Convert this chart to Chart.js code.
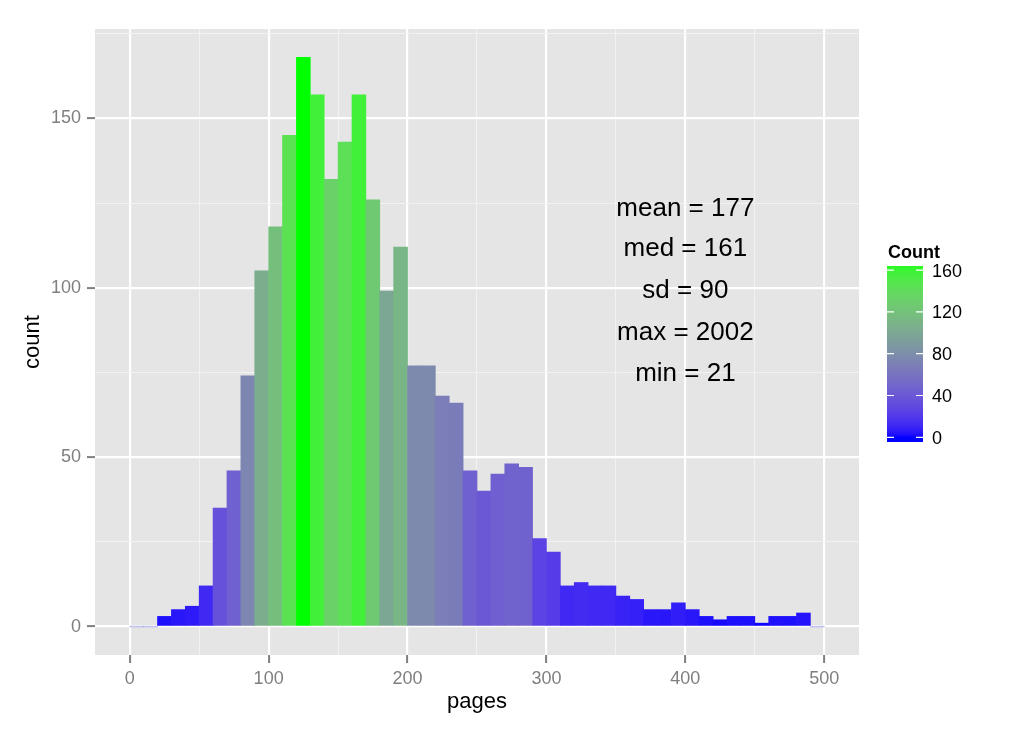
<!DOCTYPE html>
<html>
<head>
<meta charset="utf-8">
<script src="https://cdn.jsdelivr.net/npm/chart.js@4.4.1/dist/chart.umd.min.js"></script>
<style>
  html, body { margin: 0; padding: 0; background: #ffffff; }
  #histCanvas { display: block; }
</style>
</head>
<body>
<canvas id="histCanvas" width="1024" height="731"></canvas>
<script>
// histogram of pages, binwidth 10
const binStarts = [0, 10, 20, 30, 40, 50, 60, 70, 80, 90,
  100, 110, 120, 130, 140, 150, 160, 170, 180, 190,
  200, 210, 220, 230, 240, 250, 260, 270, 280, 290,
  300, 310, 320, 330, 340, 350, 360, 370, 380, 390,
  400, 410, 420, 430, 440, 450, 460, 470, 480, 490];
const binWidth = 10;
const counts = [0, 0, 3, 5, 6, 12, 35, 46, 74, 105,
  118, 145, 168, 157, 132, 143, 157, 126, 99, 112,
  77, 77, 68, 66, 46, 40, 45, 48, 47, 26,
  22, 12, 13, 12, 12, 9, 8, 5, 5, 7,
  5, 3, 2, 3, 3, 1, 3, 3, 4, 0];

const xTickValues = [0, 50, 100, 150, 200, 250, 300, 350, 400, 450, 500];
const xLabelValues = [0, 100, 200, 300, 400, 500];
const yTickValues = [0, 25, 50, 75, 100, 125, 150, 175];
const yLabelValues = [0, 50, 100, 150];
const legendTicks = [0, 40, 80, 120, 160];
const fillLimits = [0, 168];

const statsLines = ["mean = 177", "med = 161", "sd = 90", "max = 2002", "min = 21"];
const statsX = 400;
const statsY = [124, 112, 99.7, 87.4, 75.3];

const FONT = '"Liberation Sans", Arial, Helvetica, sans-serif';
const canvas = document.getElementById("histCanvas");
const ctx = canvas.getContext("2d");

// --- blue -> green gradient, interpolated in Lab like ggplot ---
function toLinear(c) {
  c /= 255;
  return c <= 0.04045 ? c / 12.92 : Math.pow((c + 0.055) / 1.055, 2.4);
}
function fromLinear(c) {
  const v = c <= 0.0031308 ? 12.92 * c : 1.055 * Math.pow(c, 1 / 2.4) - 0.055;
  return Math.round(Math.max(0, Math.min(1, v)) * 255);
}
const WHITE = [0.95047, 1.0, 1.08883];
function labF(t) {
  const d = 6 / 29;
  return t > d * d * d ? Math.cbrt(t) : t / (3 * d * d) + 4 / 29;
}
function labFInv(t) {
  const d = 6 / 29;
  return t > d ? t * t * t : 3 * d * d * (t - 4 / 29);
}
function rgbToLab(rgb) {
  const [r, g, b] = rgb.map(toLinear);
  const x = (0.4124 * r + 0.3576 * g + 0.1805 * b) / WHITE[0];
  const y = (0.2126 * r + 0.7152 * g + 0.0722 * b) / WHITE[1];
  const z = (0.0193 * r + 0.1192 * g + 0.9505 * b) / WHITE[2];
  const fx = labF(x), fy = labF(y), fz = labF(z);
  return [116 * fy - 16, 500 * (fx - fy), 200 * (fy - fz)];
}
function labToRgb(lab) {
  const fy = (lab[0] + 16) / 116;
  const fx = fy + lab[1] / 500;
  const fz = fy - lab[2] / 200;
  const x = labFInv(fx) * WHITE[0];
  const y = labFInv(fy) * WHITE[1];
  const z = labFInv(fz) * WHITE[2];
  const r = 3.2406 * x - 1.5372 * y - 0.4986 * z;
  const g = -0.9689 * x + 1.8758 * y + 0.0415 * z;
  const b = 0.0557 * x - 0.2040 * y + 1.0570 * z;
  return [fromLinear(r), fromLinear(g), fromLinear(b)];
}
const lowLab = rgbToLab([0, 0, 255]);
const highLab = rgbToLab([0, 255, 0]);

function fillColour(value) {
  let t = (value - fillLimits[0]) / (fillLimits[1] - fillLimits[0]);
  t = Math.max(0, Math.min(1, t));
  const lab = lowLab.map((l, i) => l + (highLab[i] - l) * t);
  const [r, g, b] = labToRgb(lab);
  return `rgb(${r},${g},${b})`;
}

const barPoints = binStarts.map((start, i) => ({ x: start + binWidth / 2, y: counts[i] }));
const barColours = counts.map((c) => (c === 0 ? "rgba(120,120,220,0.45)" : fillColour(c)));

// --- plugins ---
const panelBackground = {
  id: "panelBackground",
  beforeDraw(chart) {
    const { ctx, chartArea } = chart;
    ctx.save();
    ctx.fillStyle = "#ffffff";
    ctx.fillRect(0, 0, chart.width, chart.height);
    ctx.fillStyle = "#E5E5E5";
    ctx.fillRect(chartArea.left, chartArea.top, chartArea.right - chartArea.left, chartArea.bottom - chartArea.top);
    ctx.restore();
  },
};

const statsText = {
  id: "statsText",
  afterDatasetsDraw(chart) {
    const { ctx, scales } = chart;
    const size = 26;
    ctx.save();
    ctx.font = `${size}px ${FONT}`;
    ctx.fillStyle = "#000000";
    ctx.textAlign = "center";
    ctx.textBaseline = "alphabetic";
    statsLines.forEach((line, i) => {
      const x = scales.x.getPixelForValue(statsX);
      const y = scales.y.getPixelForValue(statsY[i]);
      ctx.fillText(line, x, y + size * 0.358);
    });
    ctx.restore();
  },
};

const colourBar = {
  id: "colourBar",
  afterDraw(chart) {
    const { ctx } = chart;
    const left = 887;
    const width = 36;
    const top = 266;
    const bottom = 442;
    const zeroY = 437.3;
    const pxPerUnit = 1.045;
    ctx.save();
    for (let y = top; y < bottom; y++) {
      const v = (zeroY - (y + 0.5)) / pxPerUnit;
      ctx.fillStyle = fillColour(v);
      ctx.fillRect(left, y, width, 1);
    }
    ctx.strokeStyle = "#ffffff";
    ctx.lineWidth = 1.2;
    const labelSize = 18;
    ctx.font = `${labelSize}px ${FONT}`;
    ctx.fillStyle = "#000000";
    ctx.textAlign = "left";
    ctx.textBaseline = "alphabetic";
    legendTicks.forEach((v) => {
      const y = zeroY - v * pxPerUnit;
      ctx.beginPath();
      ctx.moveTo(left, y);
      ctx.lineTo(left + 7, y);
      ctx.moveTo(left + width - 7, y);
      ctx.lineTo(left + width, y);
      ctx.stroke();
      ctx.fillText(String(v), 932, y + labelSize * 0.358);
    });
    ctx.font = `bold 18px ${FONT}`;
    ctx.fillText("Count", 888, 257.5);
    ctx.restore();
  },
};

const isMajorX = (v) => xLabelValues.includes(v);
const isMajorY = (v) => yLabelValues.includes(v);

new Chart(ctx, {
  type: "bar",
  data: {
    datasets: [
      {
        data: barPoints,
        backgroundColor: barColours,
        borderWidth: 0,
        barPercentage: 1,
        categoryPercentage: 1,
        minBarLength: 1,
        grouped: false,
      },
    ],
  },
  options: {
    responsive: false,
    animation: false,
    layout: { padding: { top: 29, right: 165, bottom: 0, left: 0 } },
    plugins: { legend: { display: false }, tooltip: { enabled: false } },
    scales: {
      x: {
        type: "linear",
        min: -25,
        max: 525,
        offset: false,
        afterBuildTicks: (scale) => {
          scale.ticks = xTickValues.map((v) => ({ value: v }));
        },
        afterFit: (scale) => {
          scale.height = 76;
        },
        grid: {
          offset: false,
          color: (c) => (isMajorX(c.tick.value) ? "#FFFFFF" : "#F2F2F2"),
          lineWidth: (c) => (isMajorX(c.tick.value) ? 2.2 : 1.1),
          drawTicks: true,
          tickLength: 8,
          tickWidth: 2,
          tickColor: (c) => (isMajorX(c.tick.value) ? "#7F7F7F" : "rgba(0,0,0,0)"),
        },
        border: { display: false },
        ticks: {
          autoSkip: false,
          maxRotation: 0,
          padding: 5,
          color: "#7F7F7F",
          font: { family: FONT, size: 18 },
          callback: (v) => (isMajorX(v) ? String(v) : ""),
        },
        title: {
          display: true,
          text: "pages",
          color: "#000000",
          font: { family: FONT, size: 22 },
          padding: { top: 0, bottom: 16 },
        },
      },
      y: {
        type: "linear",
        min: -8.4,
        max: 176.4,
        afterBuildTicks: (scale) => {
          scale.ticks = yTickValues.map((v) => ({ value: v }));
        },
        afterFit: (scale) => {
          scale.width = 95;
        },
        grid: {
          color: (c) => (isMajorY(c.tick.value) ? "#FFFFFF" : "#F2F2F2"),
          lineWidth: (c) => (isMajorY(c.tick.value) ? 2.2 : 1.1),
          drawTicks: true,
          tickLength: 8,
          tickWidth: 2,
          tickColor: (c) => (isMajorY(c.tick.value) ? "#7F7F7F" : "rgba(0,0,0,0)"),
        },
        border: { display: false },
        ticks: {
          autoSkip: false,
          padding: 6,
          color: "#7F7F7F",
          font: { family: FONT, size: 18 },
          callback: (v) => (isMajorY(v) ? String(v) : ""),
        },
        title: {
          display: true,
          text: "count",
          color: "#000000",
          font: { family: FONT, size: 22 },
          padding: { top: 20, bottom: 0 },
        },
      },
    },
  },
  plugins: [panelBackground, statsText, colourBar],
});
</script>
</body>
</html>
